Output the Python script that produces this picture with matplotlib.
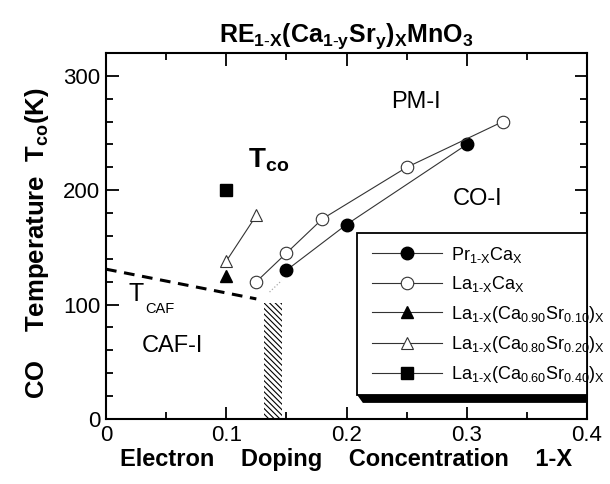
import numpy as np
import matplotlib
matplotlib.use("Agg")
import matplotlib.pyplot as plt
from matplotlib.patches import Rectangle, Polygon
from matplotlib.ticker import MultipleLocator

plt.rcParams['font.family'] = ['Liberation Sans', 'DejaVu Sans']
plt.rcParams['mathtext.fontset'] = 'custom'
plt.rcParams['mathtext.rm'] = 'Liberation Sans'
plt.rcParams['mathtext.it'] = 'Liberation Sans'
plt.rcParams['mathtext.bf'] = 'Liberation Sans:bold'
plt.rcParams['hatch.linewidth'] = 0.8

# charge-ordering temperatures, T_co (K) vs electron doping 1-x
pr_x = [0.15, 0.20, 0.30]
pr_t = [130, 170, 240]
la_x = [0.125, 0.15, 0.18, 0.25, 0.33]
la_t = [120, 145, 175, 220, 260]
sr10_x = [0.10]
sr10_t = [125]
sr20_x = [0.10, 0.125]
sr20_t = [138, 178]
sr40_x = [0.10]
sr40_t = [200]

# canted AF boundary
caf_x = [0.0, 0.125]
caf_t = [131, 105]
# two-phase (hatched) window
mix_x = [0.131, 0.146]
mix_t = [0, 101]

fig = plt.figure(figsize=(6.10, 4.84), dpi=100)
ax = fig.add_axes([0.1738, 0.1343, 0.7885, 0.7562])

lw = 0.8
ax.plot(pr_x, pr_t, '-', color='#333333', lw=lw, marker='o', ms=9,
        mfc='black', mec='black', label=r'Pr$_{\text{1-X}}$Ca$_{\text{X}}$', zorder=3)
ax.plot(la_x, la_t, '-', color='#333333', lw=lw, marker='o', ms=9,
        mfc='white', mec='#333333', mew=0.8, label=r'La$_{\text{1-X}}$Ca$_{\text{X}}$', zorder=3)
ax.plot(sr10_x, sr10_t, '-', color='#333333', lw=lw, marker='^', ms=9,
        mfc='black', mec='black',
        label=r'La$_{\text{1-X}}$(Ca$_{\text{0.90}}$Sr$_{\text{0.10}}$)$_{\text{X}}$', zorder=3)
ax.plot(sr20_x, sr20_t, '-', color='#333333', lw=lw, marker='^', ms=9,
        mfc='white', mec='#333333', mew=0.8,
        label=r'La$_{\text{1-X}}$(Ca$_{\text{0.80}}$Sr$_{\text{0.20}}$)$_{\text{X}}$', zorder=3)
ax.plot(sr40_x, sr40_t, '-', color='#333333', lw=lw, marker='s', ms=9,
        mfc='black', mec='black',
        label=r'La$_{\text{1-X}}$(Ca$_{\text{0.60}}$Sr$_{\text{0.40}}$)$_{\text{X}}$', zorder=3)

ax.plot(caf_x, caf_t, '--', color='black', lw=2.2, dashes=(3.5, 2.5))
ax.plot([0.136, 0.146], [111, 121], ':', color='#aaaaaa', lw=0.9)

ax.add_patch(Rectangle((mix_x[0], mix_t[0]), mix_x[1] - mix_x[0], mix_t[1] - mix_t[0],
                       fill=False, hatch='\\\\\\\\\\\\', edgecolor='black', lw=0))

ax.set_xlim(0, 0.4)
ax.set_ylim(0, 320)
ax.xaxis.set_major_locator(MultipleLocator(0.1))
ax.xaxis.set_minor_locator(MultipleLocator(0.05))
ax.yaxis.set_major_locator(MultipleLocator(100))
ax.yaxis.set_minor_locator(MultipleLocator(20))
ax.set_xticks([0, 0.1, 0.2, 0.3, 0.4])
ax.set_xticklabels(['0', '0.1', '0.2', '0.3', '0.4'])
ax.tick_params(which='both', direction='in', top=True, right=True, labelsize=16, width=1.3)
ax.tick_params(which='major', length=9, pad=4)
ax.tick_params(which='minor', length=5)
for s in ax.spines.values():
    s.set_linewidth(1.5)

ax.text(0.258, 277, 'PM-I', fontsize=17, ha='center', va='center')
ax.text(0.309, 192, 'CO-I', fontsize=17, ha='center', va='center')
ax.text(0.055, 64, 'CAF-I', fontsize=17, ha='center', va='center')
ax.text(0.025, 109, 'T', fontsize=18, ha='center', va='center')
ax.text(0.0324, 92.7, 'CAF', fontsize=10.5, ha='left', va='baseline')
ax.text(0.135, 226, r'$\mathbf{T_{co}}$', fontsize=20, ha='center', va='center')

ax.set_xlabel('Electron    Doping    Concentration    1-X', fontsize=17, fontweight='bold', labelpad=2)
ax.set_ylabel(r'CO    Temperature  T$_{\mathbf{co}}$(K)', fontsize=18.5, fontweight='bold')
ax.yaxis.set_label_coords(-0.115, 0.4795)
ax.set_title(r'$\mathbf{RE}_{\mathbf{1\text{-}X}}\mathbf{(Ca}_{\mathbf{1\text{-}y}}\mathbf{Sr}_{\mathbf{y}}\mathbf{)}_{\mathbf{X}}\mathbf{MnO}_{\mathbf{3}}$',
             fontsize=18, pad=8)

# legend box with a drop shadow; entries may run past the right spine
ax.add_patch(Rectangle((0.522, 0.066), 0.478, 0.442, transform=ax.transAxes,
                       facecolor='white', edgecolor='black', lw=1.3, zorder=4,
                       clip_on=False))
ax.add_patch(Polygon([[0.522, 0.066], [0.534, 0.044], [1.0, 0.044], [1.0, 0.066]],
                     closed=True, transform=ax.transAxes, facecolor='black',
                     edgecolor='none', zorder=4, clip_on=False))
leg = ax.legend(loc='upper left', bbox_to_anchor=(0.553, 0.476), fontsize=13,
                handlelength=3.9, handletextpad=0.45, labelspacing=0.52,
                borderpad=0, frameon=False, borderaxespad=0)
leg.set_zorder(5)

fig.savefig('out.png', dpi=100)
